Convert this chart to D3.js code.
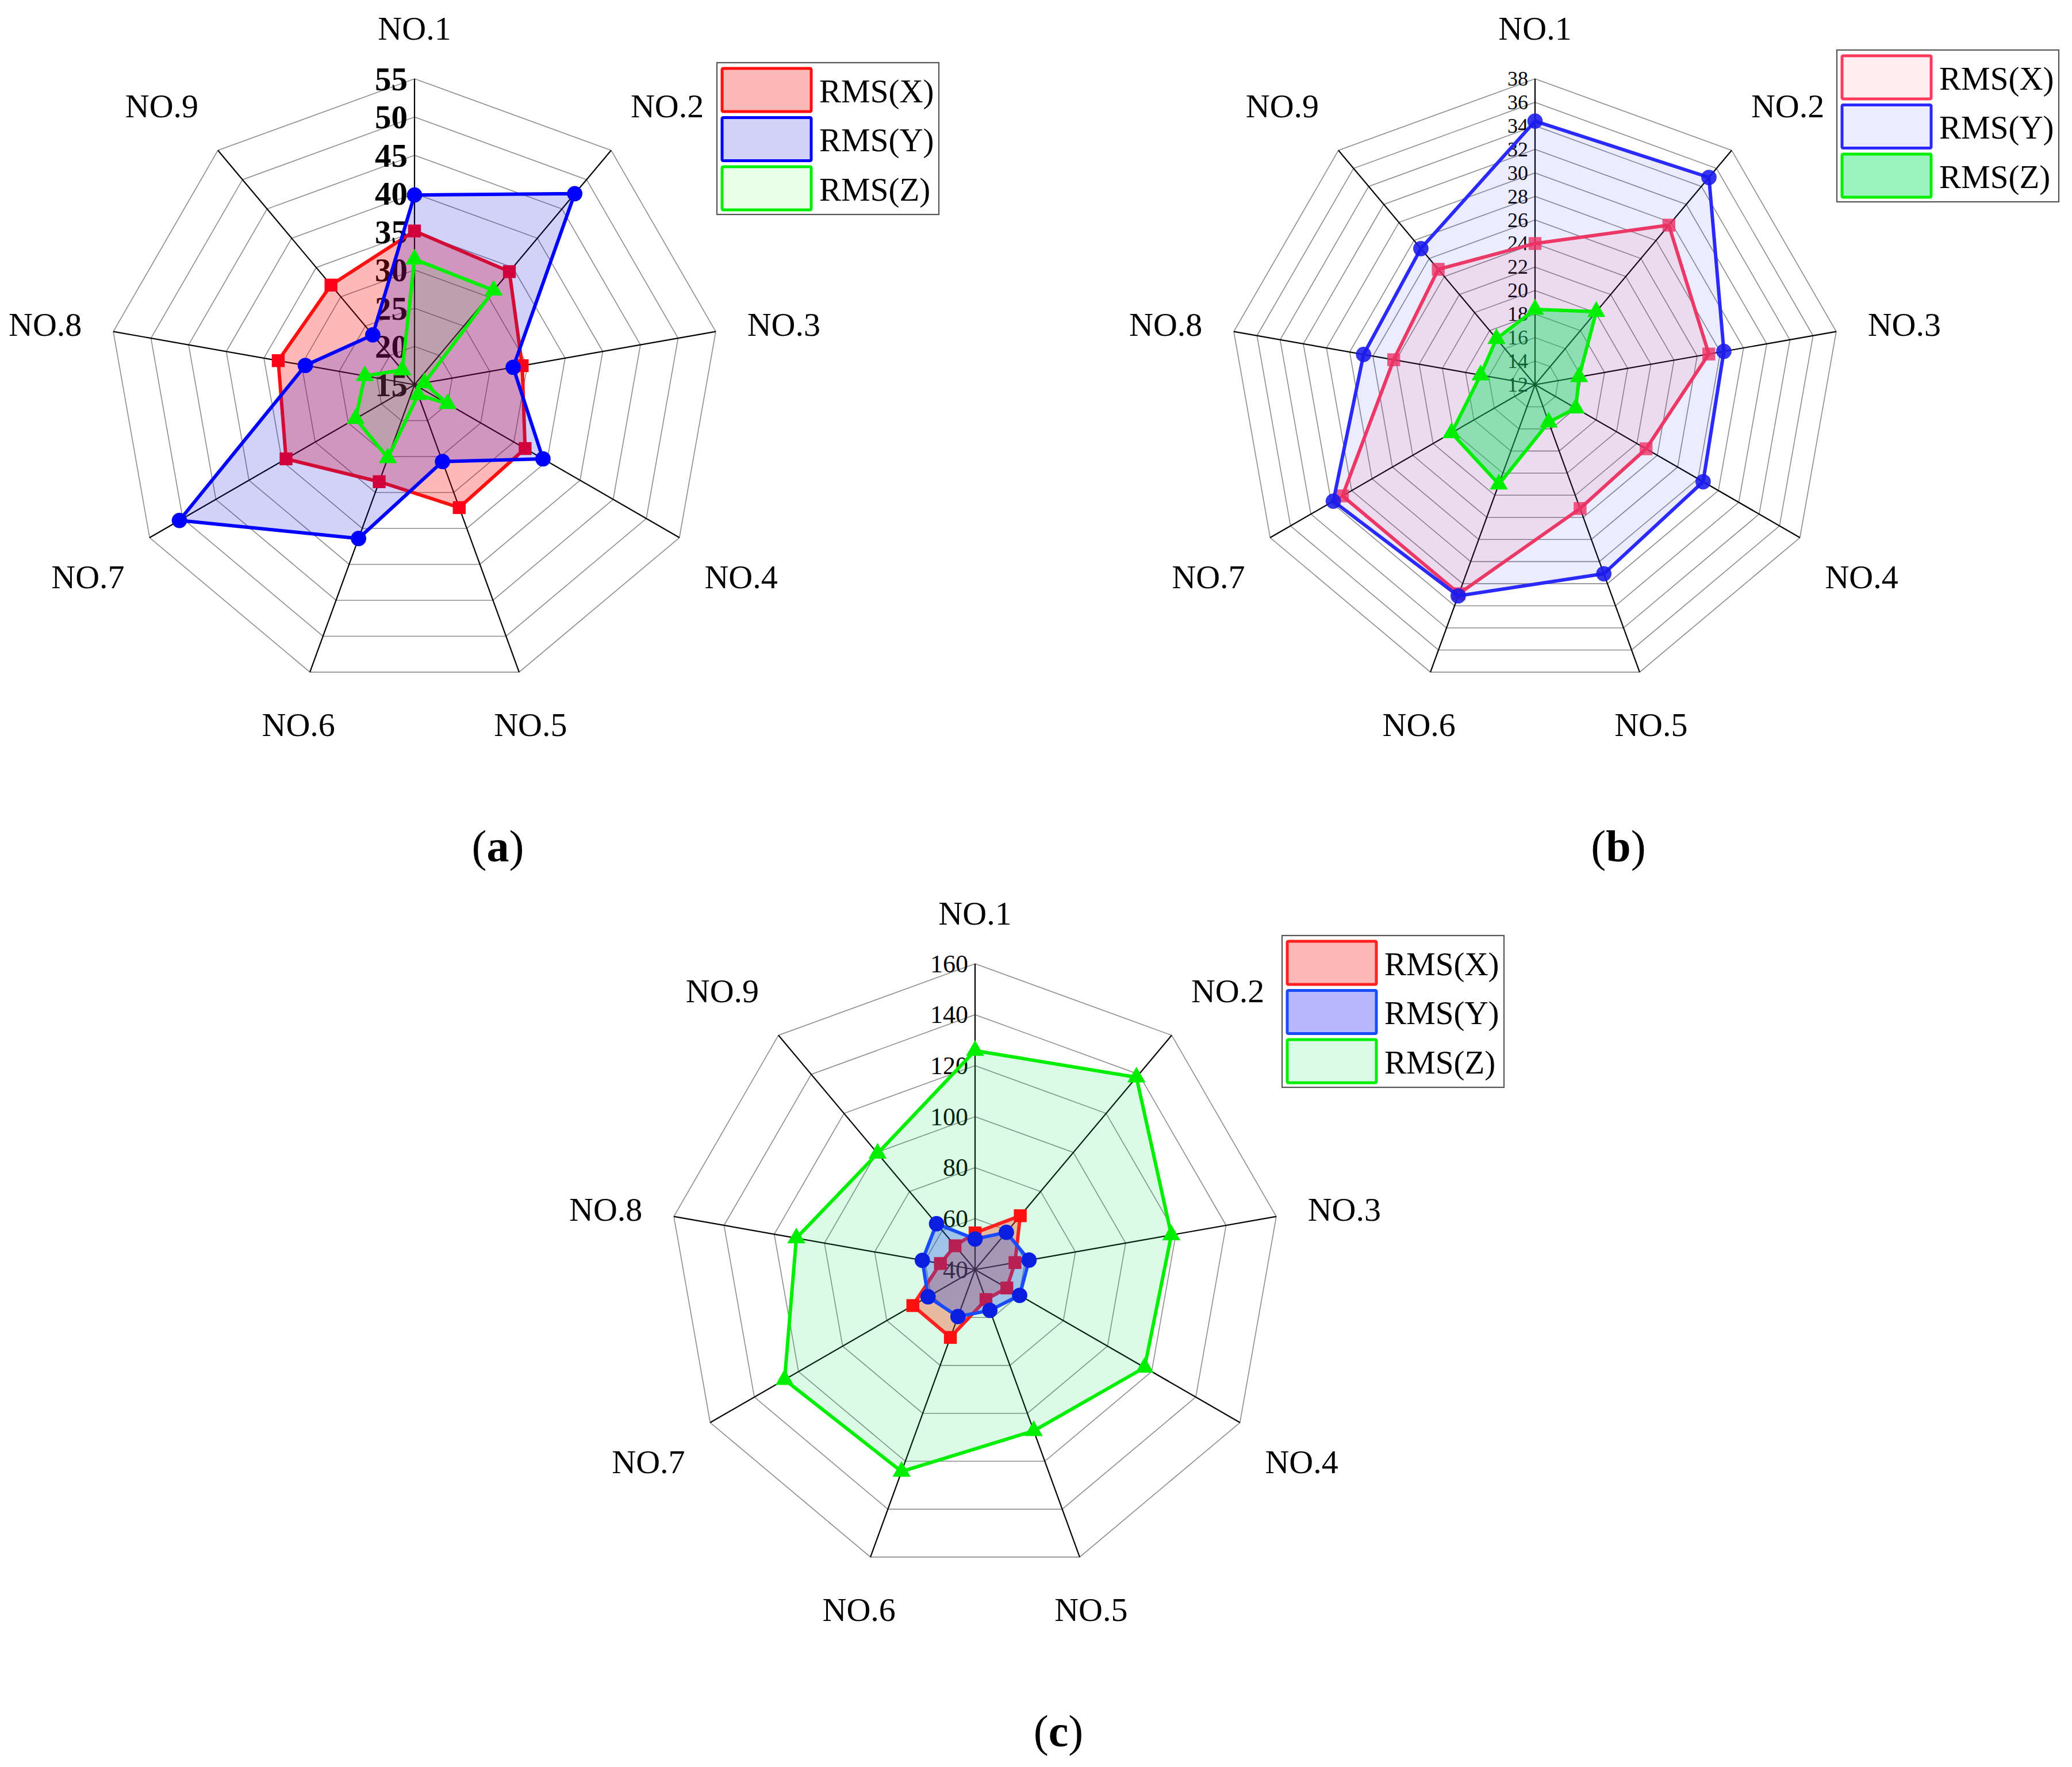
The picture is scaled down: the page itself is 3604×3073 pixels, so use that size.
<!DOCTYPE html>
<html><head><meta charset="utf-8">
<script src="https://cdn.jsdelivr.net/npm/d3@7"></script>
<style>html,body{margin:0;padding:0;background:#fff}svg{display:block}</style>
</head><body>
<script>
const categories = ["NO.1","NO.2","NO.3","NO.4","NO.5","NO.6","NO.7","NO.8","NO.9"];
const seriesNames = ["RMS(X)","RMS(Y)","RMS(Z)"];

// panel (a)
const aTicks = [15,20,25,30,35,40,45,50,55];
const aX = [35.1,34.3,29.3,31.7,32.1,28.5,34.4,33.1,32.0];
const aY = [39.8,47.6,28.1,34.4,25.7,36.4,50.5,29.5,23.5];
const aZ = [31.4,31.1,16.3,20.0,16.4,25.2,23.9,21.6,17.5];

// panel (b)
const bTicks = [12,14,16,18,20,22,24,26,28,30,32,34,36,38];
const bX = [24.0,29.7,27.0,22.9,23.2,30.9,30.9,24.2,24.8];
const bY = [34.4,35.0,28.3,28.5,29.1,31.1,31.8,26.8,27.1];
const bZ = [18.4,20.1,15.8,16.0,15.4,21.0,20.2,16.7,17.1];

// panel (c)
const cTicks = [40,60,80,100,120,140,160];
const cX = [54.4,67.6,55.9,54.4,52.5,68.3,68.2,53.8,52.2];
const cY = [52.0,59.1,61.5,60.2,57.0,59.6,61.3,61.0,63.5];
const cZ = [125.9,138.5,118.2,116.8,107.3,124.3,126.3,111.2,99.5];

const captions = ["a","b","c"];

const W = 3604, H = 3073, R = 532;
const FONT = "'Liberation Serif','DejaVu Serif',serif";

const svg = d3.select("body").append("svg").attr("width", W).attr("height", H)
  .style("font-family", FONT);

const shapes = {square: d3.symbolSquare, circle: d3.symbolCircle, triangle: d3.symbolTriangle};
const sizes = {square: 500, circle: 560, triangle: 430};

// label distance as a function of the spoke direction (cos of angle)
const labAx = d3.scaleLinear().domain([-0.94, -0.5, 0.17, 0.77]).range([590, 656, 652, 684]).clamp(true);
const labAy = d3.scaleLinear().domain([-0.94, -0.5, 0.17, 0.77, 1]).range([629, 668, 600, 633, 620]).clamp(true);

function radar(cfg) {
  const g = svg.append("g").attr("transform", `translate(${cfg.cx},${cfg.cy})`);
  const ticks = cfg.ticks;
  const r = d3.scaleLinear().domain([ticks[0], ticks[ticks.length-1]]).range([0, R]);
  const ang = d3.scalePoint().domain(categories).range([0, 2*Math.PI*(categories.length-1)/categories.length]);
  const pt = (c, v) => [Math.sin(ang(c))*r(v), -Math.cos(ang(c))*r(v)];

  // rings
  ticks.slice(1).forEach(t => {
    g.append("path")
      .attr("d", d3.line()(categories.map(c => pt(c, t))) + "Z")
      .attr("fill", "none").attr("stroke", "#8c8c8c").attr("stroke-width", 1.6);
  });
  // spokes
  categories.forEach(c => {
    const p = pt(c, ticks[ticks.length-1]);
    g.append("line").attr("x1", 0).attr("y1", 0).attr("x2", p[0]).attr("y2", p[1])
      .attr("stroke", "#000").attr("stroke-width", 2.2);
  });
  // tick labels
  ticks.forEach(t => {
    g.append("text").attr("x", -12).attr("y", -r(t))
      .attr("text-anchor", "end").attr("dominant-baseline", "central")
      .attr("font-size", cfg.tickSize).attr("font-weight", cfg.tickBold ? "bold" : "normal")
      .attr("fill", "#000").text(t);
  });
  // category labels
  categories.forEach(c => {
    const a = ang(c), co = Math.cos(a);
    g.append("text").attr("x", Math.sin(a)*labAx(co)).attr("y", -co*labAy(co))
      .attr("text-anchor", "middle").attr("dominant-baseline", "central")
      .attr("font-size", 58).attr("fill", "#000").text(c);
  });
  // series
  cfg.order.forEach(i => {
    const s = cfg.series[i];
    const pts = categories.map((c, k) => pt(c, s.values[k]));
    g.append("path").attr("d", d3.line()(pts) + "Z")
      .attr("fill", s.fill).attr("stroke", s.stroke).attr("stroke-width", 6)
      .attr("stroke-linejoin", "round");
    const sym = d3.symbol().type(shapes[s.marker]).size(sizes[s.marker]);
    pts.forEach(p => {
      g.append("path").attr("d", sym()).attr("transform", `translate(${p[0]},${p[1]})`)
        .attr("fill", s.markerFill);
    });
  });
  // legend
  const L = svg.append("g").attr("transform", `translate(${cfg.cx + cfg.legX},${cfg.cy + cfg.legY})`);
  L.append("rect").attr("x", 0).attr("y", 0).attr("width", 386).attr("height", 264)
    .attr("fill", "#fff").attr("stroke", "#555").attr("stroke-width", 2.2);
  cfg.series.forEach((s, i) => {
    const y = 10 + i*85.5;
    L.append("rect").attr("x", 9).attr("y", y).attr("width", 155).attr("height", 75)
      .attr("fill", s.legendFill || s.fill).attr("stroke", s.stroke).attr("stroke-width", 5)
      .attr("rx", 2);
    L.append("text").attr("x", 178).attr("y", y + 39).attr("dominant-baseline", "central")
      .attr("font-size", 57).attr("fill", "#000").text(seriesNames[i]);
  });
  // caption
  const t = svg.append("text").attr("x", cfg.cx + 145).attr("y", cfg.capY)
    .attr("text-anchor", "middle").attr("dominant-baseline", "central")
    .attr("font-size", 78).attr("fill", "#000");
  t.append("tspan").text("(");
  t.append("tspan").attr("font-weight", "bold").text(cfg.caption);
  t.append("tspan").text(")");
}

radar({
  cx: 721, cy: 669, ticks: aTicks, tickSize: 57, tickBold: true,
  legX: 526, legY: -560, capY: 1471, caption: captions[0], order: [0,1,2],
  series: [
    {values: aX, stroke: "#ff1010", fill: "rgba(255,0,0,0.28)", markerFill: "#ff0018", marker: "square"},
    {values: aY, stroke: "#0000ff", fill: "rgba(0,0,230,0.18)", markerFill: "#0000ff", marker: "circle"},
    {values: aZ, stroke: "#00ee00", fill: "rgba(0,255,0,0.09)", markerFill: "#00ee00", marker: "triangle"}
  ]
});

radar({
  cx: 2670, cy: 669, ticks: bTicks, tickSize: 36, tickBold: false,
  legX: 525, legY: -582, capY: 1471, caption: captions[1], order: [0,1,2],
  series: [
    {values: bX, stroke: "#ff3a5c", fill: "rgba(255,50,100,0.09)", markerFill: "rgba(255,50,90,0.8)", marker: "square"},
    {values: bY, stroke: "#2a2aff", fill: "rgba(40,40,220,0.09)", markerFill: "rgba(25,25,235,0.88)", marker: "circle"},
    {values: bZ, stroke: "#00ee00", fill: "rgba(0,230,90,0.4)", markerFill: "#00ee00", marker: "triangle"}
  ]
});

radar({
  cx: 1696, cy: 2208, ticks: cTicks, tickSize: 44, tickBold: false,
  legX: 534, legY: -581, capY: 3010, caption: captions[2], order: [2,0,1],
  series: [
    {values: cX, stroke: "#ff2020", fill: "rgba(255,40,0,0.3)", legendFill: "#ffb8b8", markerFill: "#ff1010", marker: "square"},
    {values: cY, stroke: "#1a4cff", fill: "rgba(20,70,240,0.3)", legendFill: "#b8b8ff", markerFill: "#0a1ee0", marker: "circle"},
    {values: cZ, stroke: "#00ee00", fill: "rgba(0,230,80,0.14)", markerFill: "#00ee00", marker: "triangle"}
  ]
});
</script>
</body></html>
